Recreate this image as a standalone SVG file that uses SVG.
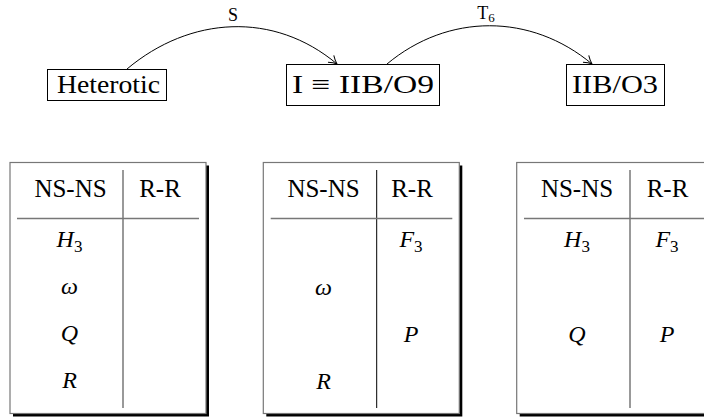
<svg xmlns="http://www.w3.org/2000/svg" width="704" height="419" viewBox="0 0 704 419">
<style>
.box{fill:#fff;stroke:#000;stroke-width:1}
.tbl{fill:#fff;stroke:#777;stroke-width:1.2}
.shadow{fill:#000}
.rule{stroke:#777;stroke-width:1.5;fill:none}
.rule2{stroke:#000;stroke-width:1;fill:none}
text{font-family:"Liberation Serif","Times New Roman",serif;fill:#000}
.hd{font-size:25px;text-anchor:middle}
.m{font-size:24px;text-anchor:middle;font-style:italic}
.sub{font-style:normal;font-size:17px}
.lbl{font-size:18px;text-anchor:middle}
.edge{fill:none;stroke:#000;stroke-width:1}
</style>
<defs>
<marker id="arr" markerUnits="userSpaceOnUse" markerWidth="20" markerHeight="20" refX="0" refY="0" viewBox="-10 -10 20 20" orient="auto" overflow="visible">
<path d="M-8,-4.5 C-5,-2.3 -2,-0.7 0,0 C-2,0.7 -5,2.3 -8,4.5" fill="none" stroke="#000" stroke-width="1"/>
</marker>
</defs>
<rect width="704" height="419" fill="#fff"/>

<g id="connectors">
<path class="edge" d="M127,69 C190,16 274,11 337,64" marker-end="url(#arr)"/>
<text class="lbl" x="233" y="21">S</text>
<path class="edge" d="M387,64 C448,13 531,13 592,64" marker-end="url(#arr)"/>
<text class="lbl" x="486" y="19">T<tspan font-size="13" dy="3">6</tspan></text>
</g>

<g id="node-heterotic">
<rect class="box" x="47.5" y="69.5" width="119" height="31"/>
<text x="57" y="93" font-size="26" textLength="103" lengthAdjust="spacingAndGlyphs">Heterotic</text>
</g>
<g id="node-iib-o9">
<rect class="box" x="286.5" y="64.5" width="153" height="41"/>
<text x="292" y="93" font-size="26" textLength="142" lengthAdjust="spacingAndGlyphs">I ≡ IIB/O9</text>
</g>
<g id="node-iib-o3">
<rect class="box" x="566.5" y="64.5" width="98" height="41"/>
<text x="572" y="93" font-size="26" textLength="86" lengthAdjust="spacingAndGlyphs">IIB/O3</text>
</g>

<g id="table-heterotic">
<rect class="shadow" x="13" y="165.5" width="196" height="251"/>
<rect class="tbl" x="10" y="162.5" width="196" height="251"/>
<line class="rule" x1="123" y1="170" x2="123" y2="408"/>
<line class="rule" x1="17" y1="218.5" x2="199" y2="218.5"/>
<text class="hd" x="70.5" y="197">NS-NS</text>
<text class="hd" x="160" y="197">R-R</text>
<text class="m" x="69.5" y="247">H<tspan class="sub" dy="5">3</tspan></text>
<text class="m" x="69.5" y="294">ω</text>
<text class="m" x="69.5" y="341">Q</text>
<text class="m" x="69.5" y="388">R</text>
</g>

<g id="table-iib-o9">
<rect class="shadow" x="266.3" y="165.5" width="196" height="251"/>
<rect class="tbl" x="263.3" y="162.5" width="196" height="251"/>
<line class="rule2" x1="376.7" y1="170" x2="376.7" y2="408"/>
<line class="rule" x1="270.7" y1="218.5" x2="452.3" y2="218.5"/>
<text class="hd" x="323.5" y="197">NS-NS</text>
<text class="hd" x="412" y="197">R-R</text>
<text class="m" x="411" y="247">F<tspan class="sub" dy="5">3</tspan></text>
<text class="m" x="323.5" y="295">ω</text>
<text class="m" x="411" y="342">P</text>
<text class="m" x="323.5" y="389">R</text>
</g>

<g id="table-iib-o3">
<rect class="shadow" x="519.7" y="165.5" width="196" height="251"/>
<rect class="tbl" x="516.7" y="162.5" width="196" height="251"/>
<line class="rule" x1="630" y1="170" x2="630" y2="408"/>
<line class="rule" x1="524" y1="218.5" x2="706" y2="218.5"/>
<text class="hd" x="577" y="197">NS-NS</text>
<text class="hd" x="667.5" y="197">R-R</text>
<text class="m" x="577" y="247">H<tspan class="sub" dy="5">3</tspan></text>
<text class="m" x="667" y="247">F<tspan class="sub" dy="5">3</tspan></text>
<text class="m" x="577" y="342">Q</text>
<text class="m" x="667" y="342">P</text>
</g>
</svg>
